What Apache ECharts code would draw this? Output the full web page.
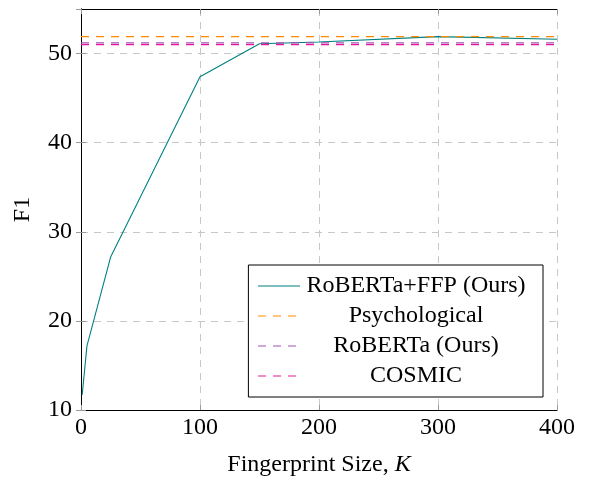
<!DOCTYPE html>
<html>
<head>
<meta charset="utf-8">
<script src="https://cdn.jsdelivr.net/npm/echarts@6/dist/echarts.min.js"></script>
<style>
html,body{margin:0;padding:0;background:#fff;}
#chart{width:589px;height:477px;}
</style>
</head>
<body>
<div id="chart"></div>
<script>
// Data
const xTicks = [0, 100, 200, 300, 400];
const yTicks = [10, 20, 30, 40, 50];
const ffpK = [1, 5, 25, 100, 150, 200, 300, 400];
const ffpF1 = [11.7, 17.2, 27.2, 47.4, 51.1, 51.3, 51.9, 51.6];
const psychological = 51.9;
const robertaOurs = 51.2;
const cosmic = 51.0;
const seriesNames = ['RoBERTa+FFP (Ours)', 'Psychological', 'RoBERTa (Ours)', 'COSMIC'];

const FONT = 'Liberation Serif';
const chart = echarts.init(document.getElementById('chart'));

function hline(v) { return [[xTicks[0], v], [xTicks[xTicks.length - 1], v]]; }

const gridLine = { show: true, lineStyle: { color: '#c8c8c8', type: [7, 6], width: 1 } };
const tickStyle = { show: true, inside: true, length: 5, lineStyle: { color: '#999', width: 1 } };
const axLine = { show: true, lineStyle: { color: '#000', width: 1 } };

chart.setOption({
  animation: false,
  backgroundColor: '#fff',
  grid: { left: 81, right: 32, top: 9, bottom: 67, containLabel: false, outerBoundsMode: 'none' },
  xAxis: [{
    type: 'value', position: 'bottom',
    min: 0, max: 400, interval: 100,
    axisLine: axLine, axisTick: tickStyle, splitLine: gridLine,
    axisLabel: { color: '#000', fontFamily: FONT, fontSize: 24, margin: 6 },
    name: '{a|Fingerprint Size, }{b|K}',
    nameLocation: 'middle', nameGap: 43,
    nameTextStyle: {
      rich: {
        a: { fontFamily: FONT, fontSize: 24, color: '#000' },
        b: { fontFamily: FONT, fontSize: 24, color: '#000', fontStyle: 'italic' }
      }
    }
  }, {
    type: 'value', position: 'top',
    min: 0, max: 400, interval: 100,
    axisLine: axLine, axisTick: tickStyle, splitLine: { show: false },
    axisLabel: { show: false }
  }],
  yAxis: [{
    type: 'value', position: 'left',
    min: 10, max: 55, interval: 10,
    axisLine: axLine, axisTick: tickStyle, splitLine: gridLine,
    axisLabel: { color: '#000', fontFamily: FONT, fontSize: 24, margin: 9, showMaxLabel: false,
      formatter: v => (yTicks.indexOf(v) >= 0 ? String(v) : '') },
    name: 'F1', nameLocation: 'middle', nameGap: 46,
    nameTextStyle: { fontFamily: FONT, fontSize: 24, color: '#000' }
  }, {
    type: 'value', position: 'right',
    min: 10, max: 55, interval: 10,
    axisLine: axLine, axisTick: tickStyle, splitLine: { show: false },
    axisLabel: { show: false }
  }],
  legend: {
    orient: 'vertical',
    right: 46, top: 265,
    padding: [9, 16, 9, 9],
    itemGap: 6,
    itemWidth: 42, itemHeight: 12,
    backgroundColor: '#fff',
    borderColor: '#000', borderWidth: 1, borderRadius: 0,
    itemStyle: { opacity: 0 },
    lineStyle: { width: 1.2 },
    data: seriesNames,
    formatter: n => '{t|' + n + '}',
    textStyle: {
      fontFamily: FONT, fontSize: 24, color: '#000', lineHeight: 24,
      rich: { t: { width: 222, align: 'center', fontFamily: FONT, fontSize: 24, lineHeight: 24, color: '#000' } }
    }
  },
  series: [{
    name: seriesNames[0], type: 'line', symbol: 'none',
    data: ffpK.map((k, i) => [k, ffpF1[i]]),
    lineStyle: { color: '#008080', width: 1.1 }, itemStyle: { color: '#008080' }
  }, {
    name: seriesNames[1], type: 'line', symbol: 'none',
    data: hline(psychological),
    lineStyle: { color: '#ff8a00', width: 1.2, type: [8, 7] }, itemStyle: { color: '#ff8a00' }
  }, {
    name: seriesNames[2], type: 'line', symbol: 'none',
    data: hline(robertaOurs),
    lineStyle: { color: '#a552b5', width: 1.3, type: [8, 7] }, itemStyle: { color: '#a552b5' }
  }, {
    name: seriesNames[3], type: 'line', symbol: 'none',
    data: hline(cosmic),
    lineStyle: { color: '#e8179a', width: 1.3, type: [8, 7] }, itemStyle: { color: '#e8179a' }
  }]
});
</script>
</body>
</html>
